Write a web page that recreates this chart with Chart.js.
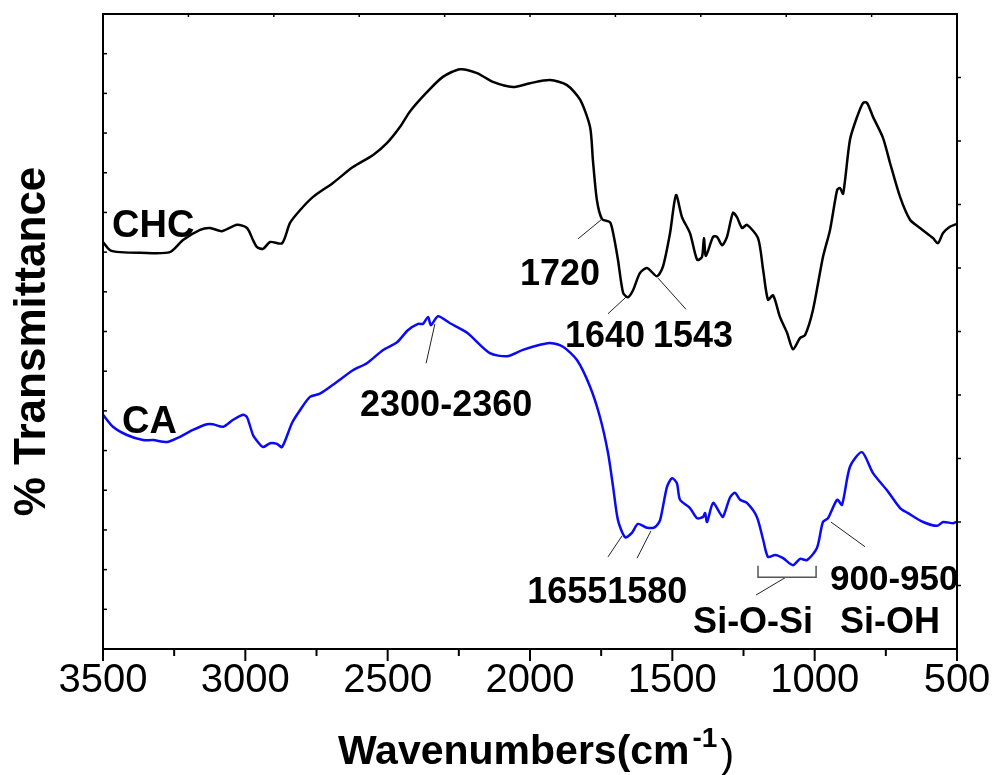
<!DOCTYPE html>
<html>
<head>
<meta charset="utf-8">
<script src="https://cdn.jsdelivr.net/npm/chart.js@4.4.1/dist/chart.umd.min.js"></script>
<style>
  body { margin: 0; background: #fff; }
  canvas { display: block; }
</style>
</head>
<body>
<canvas id="ftirChart" width="994" height="775"></canvas>
<script>
// FTIR spectra, wavenumber (cm-1) vs transmittance (arbitrary offset units)
const chcWave = [3500, 3475, 3440, 3370, 3265, 3219, 3159, 3124, 3082, 3029, 2994, 2973, 2959, 2938, 2913,
  2871, 2843, 2808, 2762, 2692, 2622, 2551, 2502, 2457, 2421, 2362, 2306, 2246, 2186, 2130, 2060, 2000,
  1930, 1870, 1824, 1789, 1779, 1765, 1747, 1719, 1708, 1691, 1673, 1656, 1638, 1614, 1589, 1554, 1533,
  1508, 1487, 1466, 1438, 1413, 1396, 1389, 1382, 1357, 1343, 1325, 1308, 1287, 1273, 1255, 1238, 1199,
  1181, 1164, 1146, 1122, 1097, 1076, 1051, 1034, 1006, 971, 946, 921, 911, 900, 876, 851, 830, 816, 795,
  760, 735, 700, 665, 630, 584, 567, 549, 525, 503];
const chcT = [64.1, 62.8, 62.5, 62.4, 62.5, 64.4, 66.0, 66.3, 65.8, 66.8, 66.3, 64.4, 63.3, 63.0, 64.1,
  63.9, 67.1, 69.1, 71.2, 73.4, 75.9, 77.8, 79.7, 82.2, 84.7, 87.7, 90.1, 91.3, 90.7, 89.3, 88.5, 89.1,
  89.6, 88.8, 86.5, 82.2, 77.0, 70.7, 67.7, 67.2, 65.5, 61.3, 56.1, 55.4, 56.5, 59.2, 60.0, 58.7, 60.2,
  65.5, 71.5, 68.0, 65.5, 61.3, 61.7, 64.7, 61.9, 64.9, 64.9, 63.6, 64.9, 68.7, 68.0, 66.3, 66.8, 64.7,
  59.7, 55.0, 55.7, 52.3, 49.8, 47.2, 49.0, 49.4, 53.4, 61.7, 66.0, 72.3, 72.6, 71.7, 80.2, 83.8, 86.0, 86.0, 83.8,
  80.5, 76.5, 71.2, 67.6, 66.3, 64.7, 63.9, 65.5, 66.5, 66.9];

const caWave = [3500, 3465, 3416, 3359, 3324, 3275, 3240, 3184, 3135, 3114, 3078, 3043, 3008, 2994, 2973,
  2956, 2938, 2913, 2889, 2871, 2836, 2808, 2773, 2738, 2692, 2622, 2573, 2516, 2467, 2429, 2393, 2376,
  2358, 2348, 2323, 2281, 2221, 2141, 2081, 2025, 1965, 1930, 1884, 1835, 1789, 1754, 1726, 1708, 1691,
  1666, 1642, 1621, 1589, 1561, 1543, 1519, 1501, 1484, 1473, 1438, 1413, 1392, 1385, 1378, 1357, 1333,
  1322, 1297, 1280, 1262, 1238, 1203, 1181, 1164, 1139, 1111, 1076, 1051, 1027, 992, 971, 953, 921, 904,
  876, 834, 795, 746, 700, 672, 619, 570, 549, 514, 503];
const caT = [36.9, 35.0, 33.7, 32.9, 32.9, 32.6, 33.2, 34.5, 35.4, 35.4, 35.0, 36.1, 36.9, 36.5, 33.7,
  32.6, 31.8, 32.4, 32.3, 31.8, 35.6, 37.6, 39.7, 40.2, 41.6, 43.9, 45.0, 47.1, 48.3, 50.2, 51.2, 51.2,
  52.3, 51.0, 52.4, 51.3, 49.8, 46.6, 46.1, 47.1, 47.9, 48.2, 47.6, 45.5, 41.3, 36.5, 30.9, 25.5, 20.3,
  17.6, 18.3, 19.7, 19.1, 19.2, 20.3, 25.5, 26.9, 26.1, 23.5, 22.2, 20.6, 20.8, 21.4, 20.0, 23.0, 21.4,
  20.8, 23.9, 24.6, 23.5, 23.0, 20.8, 17.2, 14.5, 14.8, 14.3, 13.2, 14.2, 14.0, 15.9, 20.0, 20.6, 23.5, 22.7,
  28.7, 31.0, 27.7, 25.0, 22.2, 21.4, 20.0, 19.4, 20.0, 19.8, 20.0];

const xTicks = [3500, 3000, 2500, 2000, 1500, 1000, 500];

// peak labels: text anchored at (wavenumber, T) of its left baseline
const peakLabels = [
  { text: "CHC", w: 3468, t: 64.9, size: 38 },
  { text: "CA", w: 3433, t: 34.0, size: 38 },
  { text: "1720", w: 2035, t: 57.3, size: 36 },
  { text: "1640", w: 1877, t: 47.6, size: 36 },
  { text: "1543", w: 1568, t: 47.6, size: 36 },
  { text: "2300-2360", w: 2597, t: 36.7, size: 36 },
  { text: "1655", w: 2010, t: 7.2, size: 36 },
  { text: "1580", w: 1729, t: 7.2, size: 36 },
  { text: "900-950", w: 946, t: 9.3, size: 35 },
  { text: "Si-O-Si", w: 1427, t: 2.5, size: 36 },
  { text: "Si-OH", w: 911, t: 2.5, size: 36 }
];

// leader lines from label to band
const leaders = [
  [1831, 64.6, 1747, 67.7],
  [1726, 52.8, 1663, 55.4],
  [1550, 58.4, 1452, 53.5],
  [2365, 45.0, 2334, 51.2],
  [1726, 14.5, 1677, 17.8],
  [1624, 14.3, 1575, 18.6],
  [943, 20.0, 823, 16.1],
  [1101, 11.3, 1206, 8.5]
];
// Si-O-Si range bracket
const bracket = { from: 1199, to: 995, top: 13.1, bottom: 11.3 };

const FONT = '"Liberation Sans", Arial, Helvetica, sans-serif';

const frame = {
  id: "frame",
  afterDraw(chart) {
    const { ctx, chartArea: a, scales: { x, y } } = chart;
    ctx.save();
    ctx.strokeStyle = "#000";
    ctx.fillStyle = "#000";

    // box
    ctx.lineWidth = 2;
    ctx.strokeRect(a.left, a.top, a.right - a.left, a.bottom - a.top);

    // bottom ticks, outward
    ctx.lineWidth = 2;
    for (let w = 3500; w >= 500; w -= 250) {
      const px = x.getPixelForValue(w);
      const len = w % 500 === 0 ? 12 : 7;
      ctx.beginPath();
      ctx.moveTo(px, a.bottom);
      ctx.lineTo(px, a.bottom + len);
      ctx.stroke();
    }
    // top ticks, inward
    ctx.lineWidth = 1.5;
    for (let w = 3200; w > 500; w -= 300) {
      const px = x.getPixelForValue(w);
      ctx.beginPath();
      ctx.moveTo(px, a.top);
      ctx.lineTo(px, a.top + 3);
      ctx.stroke();
    }
    // left ticks inward, right ticks outward
    for (let i = 1; i < 16; i++) {
      const py = y.getPixelForValue(y.min + (y.max - y.min) * i / 16);
      ctx.beginPath();
      ctx.moveTo(a.left, py);
      ctx.lineTo(a.left + 4, py);
      ctx.stroke();
    }
    for (let i = 1; i < 10; i++) {
      const py = y.getPixelForValue(y.min + (y.max - y.min) * i / 10);
      ctx.beginPath();
      ctx.moveTo(a.right, py);
      ctx.lineTo(a.right + 4, py);
      ctx.stroke();
    }

    // tick labels
    ctx.font = "40px " + FONT;
    ctx.textAlign = "center";
    ctx.textBaseline = "alphabetic";
    xTicks.forEach(w => ctx.fillText(String(w), x.getPixelForValue(w), a.bottom + 43));

    // x axis title with superscript
    const main = "Wavenumbers(cm";
    ctx.font = "bold 41px " + FONT;
    const mainW = ctx.measureText(main).width;
    ctx.font = "bold 28px " + FONT;
    const supW = ctx.measureText("-1").width;
    ctx.font = "41px " + FONT;
    const closeW = ctx.measureText(")").width;
    let tx = 536 - (mainW + supW + 6 + closeW) / 2;
    const ty = a.bottom + 115;
    ctx.textAlign = "left";
    ctx.font = "bold 41px " + FONT;
    ctx.fillText(main, tx, ty);
    tx += mainW + 3;
    ctx.font = "bold 28px " + FONT;
    ctx.fillText("-1", tx, ty - 17);
    tx += supW + 3;
    ctx.font = "41px " + FONT;
    ctx.fillText(")", tx, ty + 4);

    // y axis title
    ctx.save();
    ctx.translate(33, (a.top + a.bottom) / 2 + 10);
    ctx.rotate(-Math.PI / 2);
    ctx.font = "bold 44px " + FONT;
    ctx.textAlign = "center";
    ctx.textBaseline = "middle";
    ctx.fillText("% Transmittance", 0, 0);
    ctx.restore();

    // peak labels
    ctx.textAlign = "left";
    ctx.textBaseline = "alphabetic";
    peakLabels.forEach(l => {
      ctx.font = "bold " + l.size + "px " + FONT;
      ctx.fillText(l.text, x.getPixelForValue(l.w), y.getPixelForValue(l.t));
    });

    // leader lines
    ctx.lineWidth = 1;
    ctx.strokeStyle = "#222";
    leaders.forEach(([w1, t1, w2, t2]) => {
      ctx.beginPath();
      ctx.moveTo(x.getPixelForValue(w1), y.getPixelForValue(t1));
      ctx.lineTo(x.getPixelForValue(w2), y.getPixelForValue(t2));
      ctx.stroke();
    });

    // bracket
    ctx.strokeStyle = "#555";
    ctx.lineWidth = 1.5;
    const bx1 = x.getPixelForValue(bracket.from);
    const bx2 = x.getPixelForValue(bracket.to);
    const by1 = y.getPixelForValue(bracket.top);
    const by2 = y.getPixelForValue(bracket.bottom);
    ctx.beginPath();
    ctx.moveTo(bx1, by1); ctx.lineTo(bx1, by2);
    ctx.lineTo(bx2, by2); ctx.lineTo(bx2, by1);
    ctx.stroke();

    ctx.restore();
  }
};

new Chart(document.getElementById("ftirChart"), {
  type: "line",
  data: {
    datasets: [{
      label: "CHC",
      data: chcWave.map((w, i) => ({ x: w, y: chcT[i] })),
      borderColor: "#000000",
      borderWidth: 2.5,
      pointRadius: 0,
      tension: 0.25,
      fill: false
    }, {
      label: "CA",
      data: caWave.map((w, i) => ({ x: w, y: caT[i] })),
      borderColor: "#0a0af5",
      borderWidth: 2.5,
      pointRadius: 0,
      tension: 0.25,
      fill: false
    }]
  },
  options: {
    responsive: false,
    animation: false,
    devicePixelRatio: 1,
    layout: {
      padding: { left: 103, right: 37, top: 14, bottom: 126 }
    },
    scales: {
      x: {
        type: "linear",
        reverse: true,
        min: 500,
        max: 3500,
        display: false
      },
      y: {
        min: 0,
        max: 100,
        display: false
      }
    },
    plugins: {
      legend: { display: false },
      tooltip: { enabled: false }
    }
  },
  plugins: [frame]
});
</script>
</body>
</html>
